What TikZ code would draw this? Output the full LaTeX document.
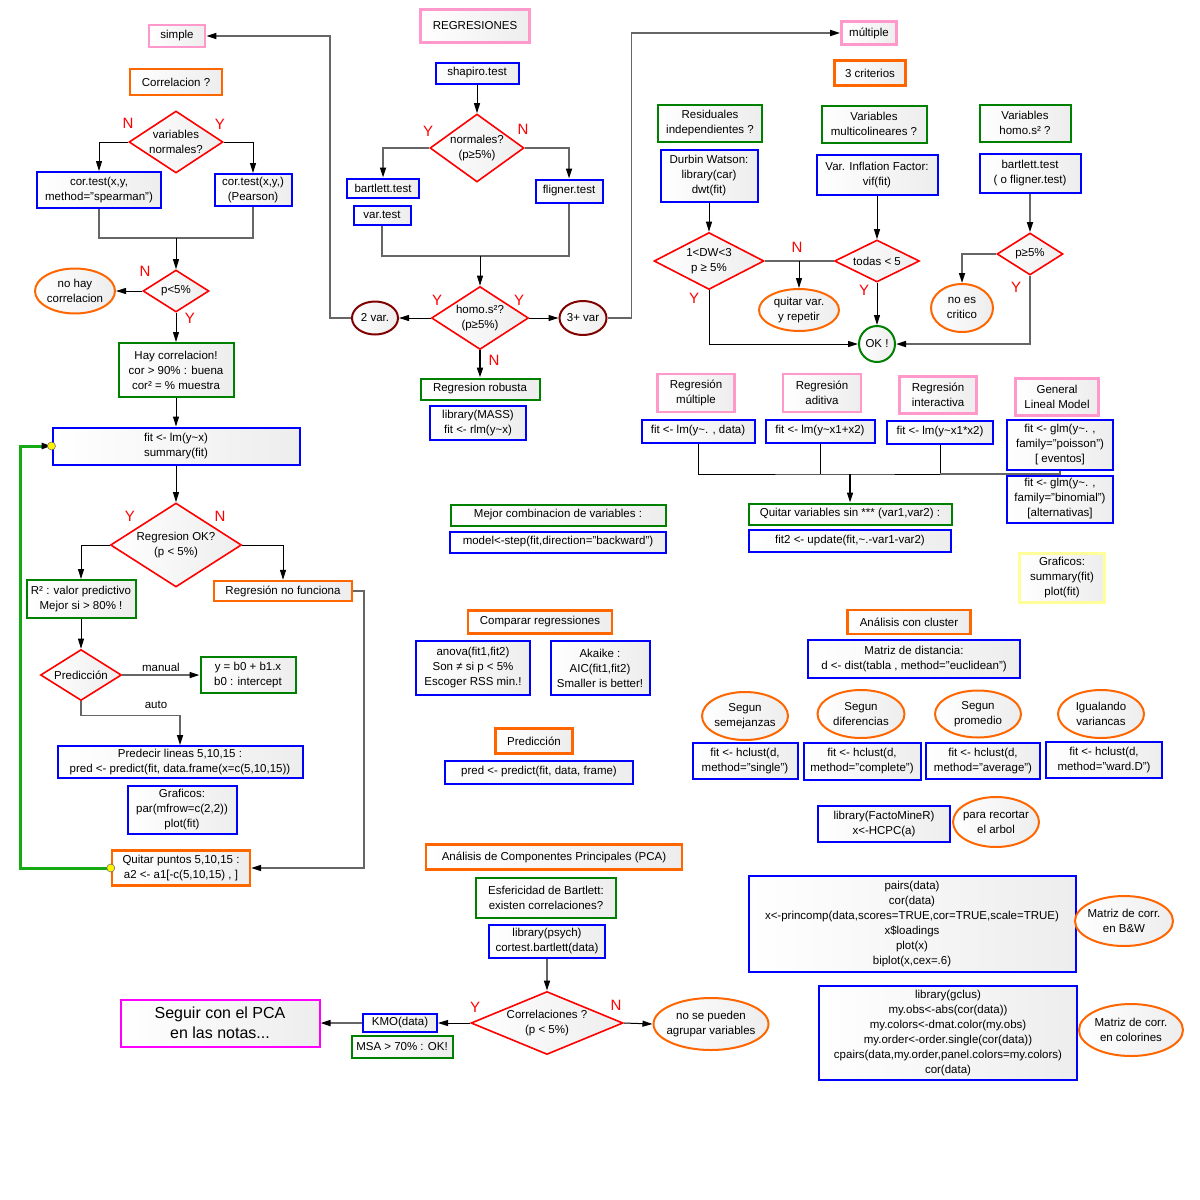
\documentclass[tikz,border=0pt]{standalone}
\usepackage{fontspec}
\setmainfont{Liberation Sans}
\usetikzlibrary{shapes.geometric,arrows.meta}

\definecolor{bluebd}{RGB}{0,0,255}
\definecolor{greenbd}{RGB}{0,128,0}
\definecolor{orangebd}{RGB}{255,102,0}
\definecolor{pinkbd}{RGB}{255,153,204}
\definecolor{maroonbd}{RGB}{128,0,0}
\definecolor{yellowbd}{RGB}{255,255,153}
\definecolor{magbd}{RGB}{255,0,255}
\definecolor{loopgreen}{RGB}{20,170,20}

\newcommand{\boxfont}{\fontsize{11.5}{15}\selectfont}
\newcommand{\bigfont}{\fontsize{16}{20}\selectfont}
\newcommand{\tld}{\textasciitilde}

\tikzset{
  shadebox/.style={left color=white, right color=black!7},
  box/.style={shadebox, font=\boxfont, align=center, inner sep=1pt},
  bluebox/.style={box, draw=bluebd, line width=2pt},
  greenbox/.style={box, draw=greenbd, line width=2pt},
  orangebox/.style={box, draw=orangebd, line width=2.4pt},
  pinkbox/.style={box, draw=pinkbd, line width=2.6pt},
  yellowbox/.style={box, draw=yellowbd, line width=2.2pt},
  magbox/.style={box, draw=magbd, line width=2pt, font=\bigfont},
  decision/.style={diamond, shadebox, draw=red, line width=1.6pt, inner sep=0pt},
  oval/.style={ellipse, shadebox, draw=orangebd, line width=2pt, inner sep=0pt},
  varoval/.style={ellipse, shadebox, draw=maroonbd, line width=2pt, inner sep=0pt},
  okcircle/.style={circle, shadebox, draw=greenbd, line width=2pt, inner sep=0pt, minimum size=36pt},
  txt/.style={font=\boxfont, align=center, inner sep=0pt},
  yn/.style={text=red, font=\fontsize{15}{15}\selectfont, inner sep=0pt},
  tip/.style={-{Triangle[length=10pt,width=6pt,color=black]}},
  arr/.style={tip, draw=black, line width=1pt},
  ln/.style={draw=black, line width=1pt},
  garr/.style={tip, draw=black!60, line width=1.6pt},
  gln/.style={draw=black!60, line width=1.6pt},
  loopline/.style={tip, draw=loopgreen, line width=3pt},
  dot/.style={circle, fill=yellow, draw=black!60, line width=0.5pt, inner sep=0pt, minimum size=8pt},
}

\begin{document}
\begin{tikzpicture}[x=1pt, y=-1pt]
\useasboundingbox (0,0) rectangle (1200,1200);

% correlacion
\node[pinkbox, minimum width=56, minimum height=22] (simple) at (177,36) {simple};
\node[orangebox, minimum width=92, minimum height=26] (corr) at (176,82) {Correlacion ?};
\node[decision, minimum width=94, minimum height=62] (vn) at (176,142) {};
\node[txt] (vn-t) at (vn) {variables\\normales?};
\node[bluebox, minimum width=124, minimum height=36] (spear) at (99,190) {cor.test(x,y,\\method="spearman")};
\node[bluebox, minimum width=77, minimum height=32] (pear) at (253,190) {cor.test(x,y,)\\(Pearson)};
\node[decision, minimum width=66, minimum height=42] (pc) at (176,291) {};
\node[txt] (pc-t) at (pc) {p<5\%};
\node[oval, minimum width=80, minimum height=45] (nohay) at (75,291) {};
\node[txt] (nohay-t) at (nohay) {no hay\\correlacion};
\node[greenbox, minimum width=115, minimum height=54] (hay) at (176,370) {Hay correlacion!\\cor > 90\% : buena\\cor² = \% muestra};
\node[bluebox, minimum width=247, minimum height=37] (fit) at (176,446) {fit <- lm(y\tld x)\\summary(fit)};
\node[decision, minimum width=131, minimum height=84] (rok) at (176,545) {};
\node[txt] (rok-t) at (rok) {Regresion OK?\\(p < 5\%)};
\node[greenbox, minimum width=109, minimum height=38] (r2) at (81,599) {R² : valor predictivo\\Mejor si > 80\% !};
\node[orangebox, minimum width=138, minimum height=20] (nofun) at (283,591) {Regresión no funciona};
\node[decision, minimum width=81, minimum height=51] (pred) at (81,675) {};
\node[txt] (pred-t) at (pred) {Predicción};
\node[greenbox, minimum width=95, minimum height=36] (ybo) at (248,675) {y = b0 + b1.x\\b0 : intercept};
\node[bluebox, minimum width=245, minimum height=32] (predl) at (180,762) {Predecir lineas 5,10,15 :\\pred <- predict(fit, data.frame(x=c(5,10,15))};
\node[bluebox, minimum width=109, minimum height=48] (graf) at (182,810) {Graficos:\\par(mfrow=c(2,2))\\plot(fit)};
\node[orangebox, minimum width=138, minimum height=35] (quitar) at (181,868) {Quitar puntos 5,10,15 :\\a2 <- a1[-c(5,10,15) , ]};

\node[yn] (vn-n) at (128,123) {N};
\node[yn] (vn-y) at (220,124) {Y};
\node[yn] (pc-n) at (145,271) {N};
\node[yn] (pc-y) at (190,318) {Y};
\node[yn] (rok-y) at (130,516) {Y};
\node[yn] (rok-n) at (220,516) {N};

\draw[arr] (vn.west) -| (spear.north);
\draw[arr] (vn.east) -| (pear.north);
\coordinate (mg1) at (176,238);
\draw[gln] (spear.south) |- (mg1) -| (pear.south);
\draw[arr] (mg1) -- (pc.north);
\draw[arr] (pc.west) -- (nohay.east);
\draw[arr] (pc.south) -- (hay.north);
\draw[arr] (hay.south) -- (fit.north);
\draw[arr] (fit.south) -- (rok.north);
\draw[arr] (rok.west) -| (r2.north);
\draw[arr] (rok.east) -| (nofun.north);
\draw[arr] (r2.south) -- (pred.north);
\draw[garr] (pred.east) -- (ybo.west) node[txt, midway, above=3pt] (lman) {manual};
\draw[garr] (pred.south) -- ++(0,14) -| (predl.north);
\node[txt] (lauto) at (156,705) {auto};
\draw[garr] (nofun.east) -- ++(11,0) |- (quitar.east);
\draw[loopline] (quitar.west) -- ++(-90,0) |- (fit.west);
\node[dot] (dot1) at (quitar.west) {};
\node[dot] (dot2) at (fit.west) {};

% regresiones
\node[pinkbox, minimum width=109, minimum height=33] (regr) at (475,26) {REGRESIONES};
\node[bluebox, minimum width=83, minimum height=21] (shap) at (477,73) {shapiro.test};
\node[decision, minimum width=94, minimum height=68] (norm) at (477,148) {};
\node[txt] (norm-t) at (norm) {normales?\\(p≥5\%)};
\node[bluebox, minimum width=72, minimum height=19] (bart) at (383,188) {bartlett.test};
\node[bluebox, minimum width=57, minimum height=19] (vart) at (382,215) {var.test};
\node[bluebox, minimum width=67, minimum height=23] (flig) at (569,191) {fligner.test};
\node[decision, minimum width=97, minimum height=63] (homo) at (480,318) {};
\node[txt] (homo-t) at (homo) {homo.s²?\\(p≥5\%)};
\node[varoval, minimum width=46, minimum height=33] (v2) at (375,318) {};
\node[txt] (v2-t) at (v2) {2 var.};
\node[varoval, minimum width=47, minimum height=34] (v3) at (583,318) {};
\node[txt] (v3-t) at (v3) {3+ var};
\node[greenbox, minimum width=119, minimum height=21] (robu) at (480,389) {Regresion robusta};
\node[bluebox, minimum width=96, minimum height=34] (mass) at (478,423) {library(MASS)\\fit <- rlm(y\tld x)};

\node[yn] (norm-y) at (428,131) {Y};
\node[yn] (norm-n) at (523,129) {N};
\node[yn] (homo-y1) at (437,300) {Y};
\node[yn] (homo-y2) at (519,300) {Y};
\node[yn] (homo-n) at (494,360) {N};

\draw[arr] (shap.south) -- (norm.north);
\draw[garr] (norm.west) -| (bart.north);
\draw[garr] (norm.east) -| (flig.north);
\coordinate (mg2) at (480,256);
\draw[gln] (vart.south) |- (mg2) -| (flig.south);
\draw[arr] (mg2) -- (homo.north);
\draw[arr] (homo.west) -- (v2.east);
\draw[arr] (homo.east) -- (v3.west);
\draw[arr, line width=1.8pt] (homo.south) -- (robu.north);
\draw[garr] (v2.west) -- ++(-21,0) |- (simple.east);

% multiple
\node[pinkbox, minimum width=55, minimum height=23] (mult) at (869,33) {múltiple};
\node[orangebox, minimum width=71, minimum height=25] (crit) at (870,73) {3 criterios};
\node[greenbox, minimum width=104, minimum height=37] (resid) at (710,123) {Residuales\\independientes ?};
\node[bluebox, minimum width=97, minimum height=52] (durb) at (709,176) {Durbin Watson:\\library(car)\\dwt(fit)};
\node[greenbox, minimum width=105, minimum height=37] (multi) at (874,124) {Variables\\multicolineares ?};
\node[bluebox, minimum width=121, minimum height=40] (vif) at (877,175) {Var. Inflation Factor:\\vif(fit)};
\node[greenbox, minimum width=91, minimum height=37] (homv) at (1025,123) {Variables\\homo.s² ?};
\node[bluebox, minimum width=101, minimum height=39] (bart2) at (1030,173) {bartlett.test\\( o fligner.test)};
\node[decision, minimum width=110, minimum height=57] (dw) at (709,261) {};
\node[txt] (dw-t) at (dw) {1<DW<3\\p ≥ 5\%};
\node[decision, minimum width=85, minimum height=42] (tod) at (877,261) {};
\node[txt] (tod-t) at (tod) {todas < 5};
\node[oval, minimum width=80, minimum height=42] (quit) at (799,310) {};
\node[txt] (quit-t) at (quit) {quitar var.\\y repetir};
\node[okcircle] (ok) at (877,344) {};
\node[txt] (ok-t) at (ok) {OK !};
\node[decision, minimum width=66, minimum height=42] (p5) at (1030,254) {};
\node[txt] (p5-t) at (p5) {p≥5\%};
\node[oval, minimum width=62, minimum height=48] (noes) at (962,308) {};
\node[txt] (noes-t) at (noes) {no es\\critico};

\node[yn] (dw-n) at (797,247) {N};
\node[yn] (dw-y) at (694,298) {Y};
\node[yn] (tod-y) at (864,290) {Y};
\node[yn] (p5-y) at (1016,287) {Y};

\draw[garr] (v3.east) -- ++(24,0) |- (mult.west);
\draw[arr] (durb.south) -- (dw.north);
\draw[arr] (vif.south) -- (tod.north);
\draw[garr] (bart2.south) -- (p5.north);
\draw[gln] (dw.east) -- (tod.west);
\coordinate (mg3) at (799,261);
\draw[arr] (mg3) -- (quit.north);
\draw[arr] (dw.south) |- (ok.west);
\draw[arr] (tod.south) -- (ok.north);
\draw[garr] (p5.south) |- (ok.east);
\draw[garr] (p5.west) -| (noes.north);

% modelos
\node[pinkbox, minimum width=77, minimum height=38] (rmul) at (696,393) {Regresión\\múltiple};
\node[pinkbox, minimum width=78, minimum height=38] (radi) at (822,393) {Regresión\\aditiva};
\node[pinkbox, minimum width=77, minimum height=37] (rint) at (938,395) {Regresión\\interactiva};
\node[pinkbox, minimum width=83, minimum height=37] (glmh) at (1057,397) {General\\Lineal Model};
\node[bluebox, minimum width=113, minimum height=23] (lm1) at (698,431) {fit <- lm(y\tld. , data)};
\node[bluebox, minimum width=109, minimum height=23] (lm2) at (820,431) {fit <- lm(y\tld x1+x2)};
\node[bluebox, minimum width=106, minimum height=23] (lm3) at (940,432) {fit <- lm(y\tld x1*x2)};
\node[bluebox, minimum width=106, minimum height=50] (glm1) at (1060,445) {fit <- glm(y\tld. ,\\family="poisson")\\{[} eventos{]}};
\node[bluebox, minimum width=106, minimum height=47] (glm2) at (1060,499) {fit <- glm(y\tld. ,\\family="binomial")\\{[}alternativas{]}};
\node[greenbox, minimum width=203, minimum height=21] (quitv) at (850,514) {Quitar variables sin *** (var1,var2) :};
\node[bluebox, minimum width=202, minimum height=22] (upd) at (850,541) {fit2 <- update(fit,\tld.-var1-var2)};
\node[yellowbox, minimum width=85, minimum height=49] (grafs) at (1062,578) {Graficos:\\summary(fit)\\plot(fit)};

\coordinate (mg4) at (850,474);
\draw[ln] (lm1.south) |- (mg4) -| (lm3.south);
\draw[ln] (lm2.south) -- (lm2.south |- mg4);
\draw[gln] (lm3.south |- mg4) -| (glm1.south);
\draw[arr, line width=1.6pt] (mg4) -- (quitv.north);

% centro
\node[greenbox, minimum width=215, minimum height=21] (mejor) at (558,515) {Mejor combinacion de variables :};
\node[bluebox, minimum width=216, minimum height=21] (step) at (558,542) {model<-step(fit,direction="backward")};
\node[orangebox, minimum width=144, minimum height=23] (comp) at (540,622) {Comparar regressiones};
\node[bluebox, minimum width=114, minimum height=54] (anova) at (473,668) {anova(fit1,fit2)\\Son ≠ si p < 5\%\\Escoger RSS min.!};
\node[bluebox, minimum width=99, minimum height=54] (aic) at (600,668) {Akaike :\\AIC(fit1,fit2)\\Smaller is better!};
\node[orangebox, minimum width=77, minimum height=25] (predh) at (534,741) {Predicción};
\node[bluebox, minimum width=188, minimum height=23] (predf) at (539,772) {pred <- predict(fit, data, frame)};

% cluster
\node[orangebox, minimum width=123, minimum height=24] (clus) at (909,622) {Análisis con cluster};
\node[bluebox, minimum width=212, minimum height=38] (dist) at (914,659) {Matriz de distancia:\\d <- dist(tabla , method="euclidean")};
\node[oval, minimum width=86, minimum height=48] (sem) at (745,716) {};
\node[txt] (sem-t) at (sem) {Segun\\semejanzas};
\node[oval, minimum width=87, minimum height=48] (dif) at (861,714) {};
\node[txt] (dif-t) at (dif) {Segun\\diferencias};
\node[oval, minimum width=86, minimum height=47] (prom) at (978,714) {};
\node[txt] (prom-t) at (prom) {Segun\\promedio};
\node[oval, minimum width=86, minimum height=48] (igu) at (1101,714) {};
\node[txt] (igu-t) at (igu) {Igualando\\variancas};
\node[bluebox, minimum width=105, minimum height=36] (hsin) at (745,761) {fit <- hclust(d,\\method="single")};
\node[bluebox, minimum width=117, minimum height=37] (hcom) at (862,761) {fit <- hclust(d,\\method="complete")};
\node[bluebox, minimum width=114, minimum height=36] (have) at (983,761) {fit <- hclust(d,\\method="average")};
\node[bluebox, minimum width=116, minimum height=36] (hwar) at (1104,760) {fit <- hclust(d,\\method="ward.D")};
\node[bluebox, minimum width=132, minimum height=36] (facto) at (884,824) {library(FactoMineR)\\x<-HCPC(a)};
\node[oval, minimum width=86, minimum height=50] (recor) at (996,822) {};
\node[txt] (recor-t) at (recor) {para recortar\\el arbol};

% pca
\node[orangebox, minimum width=256, minimum height=25] (pca) at (554,857) {Análisis de Componentes Principales (PCA)};
\node[greenbox, minimum width=140, minimum height=40] (esf) at (546,898) {Esfericidad de Bartlett:\\existen correlaciones?};
\node[bluebox, minimum width=116, minimum height=33] (psy) at (547,941) {library(psych)\\cortest.bartlett(data)};
\node[decision, minimum width=152, minimum height=63] (corq) at (547,1023) {};
\node[txt] (corq-t) at (corq) {Correlaciones ?\\(p < 5\%)};
\node[bluebox, minimum width=74, minimum height=18] (kmo) at (400,1023) {KMO(data)};
\node[greenbox, minimum width=101, minimum height=22] (msa) at (402,1047) {MSA > 70\% : OK!};
\node[magbox, minimum width=199, minimum height=47] (seg) at (220,1023) {Seguir con el PCA\\en las notas...};
\node[oval, minimum width=115, minimum height=52] (nose) at (711,1024) {};
\node[txt] (nose-t) at (nose) {no se pueden\\agrupar variables};
\node[bluebox, minimum width=327, minimum height=96] (pairs) at (912,924) {pairs(data)\\cor(data)\\x<-princomp(data,scores=TRUE,cor=TRUE,scale=TRUE)\\x\$loadings\\plot(x)\\biplot(x,cex=.6)};
\node[oval, minimum width=98, minimum height=50] (bw) at (1124,921) {};
\node[txt] (bw-t) at (bw) {Matriz de corr.\\en B\&W};
\node[bluebox, minimum width=258, minimum height=94] (gcl) at (948,1033) {library(gclus)\\my.obs<-abs(cor(data))\\my.colors<-dmat.color(my.obs)\\my.order<-order.single(cor(data))\\cpairs(data,my.order,panel.colors=my.colors)\\cor(data)};
\node[oval, minimum width=104, minimum height=52] (colo) at (1131,1030) {};
\node[txt] (colo-t) at (colo) {Matriz de corr.\\en colorines};

\node[yn] (corq-y) at (475,1007) {Y};
\node[yn] (corq-n) at (616,1005) {N};

\draw[garr] (psy.south) -- (corq.north);
\draw[arr] (corq.west) -- (kmo.east);
\draw[garr] (kmo.west) -- (seg.east);
\draw[arr] (corq.east) -- (nose.west);
\end{tikzpicture}
\end{document}
